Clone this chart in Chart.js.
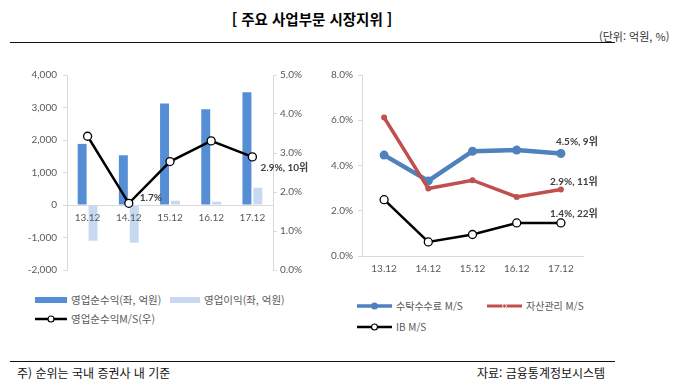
<!DOCTYPE html>
<html lang="ko">
<head>
<meta charset="utf-8">
<script src="https://cdn.jsdelivr.net/npm/chart.js@4.4.1/dist/chart.umd.min.js"></script>
<style>
  body { margin: 0; width: 678px; height: 390px; background: #fff; position: relative; overflow: hidden;
         font-family: "Noto Sans CJK KR", sans-serif; color: #000; }
  .abs { position: absolute; white-space: nowrap; }
  .title { left: 0; width: 624px; top: 8px; text-align: center; font-size: 14.5px; font-weight: bold; }
  .unit { left: 599px; top: 28px; font-size: 11px; color: #333; }
  .rule { left: 10px; width: 605px; height: 0; border-top: 1.5px solid #111; }
  .note { top: 364px; font-size: 12px; color: #111; }
  .legend { font-size: 10.5px; color: #595959; display: flex; align-items: center; }
  .legend svg { margin-right: 4px; }
  #leftWrap { left: 0; top: 60px; width: 320px; height: 225px; }
  #rightWrap { left: 320px; top: 60px; width: 358px; height: 225px; }
</style>
</head>
<body>
<div class="abs title">[ 주요 사업부문 시장지위 ]</div>
<div class="abs unit">(단위: 억원, %)</div>
<div class="abs rule" style="top:42px"></div>

<div class="abs" id="leftWrap"><canvas id="leftChart" width="320" height="225"></canvas></div>
<div class="abs" id="rightWrap"><canvas id="rightChart" width="358" height="225"></canvas></div>

<!-- legends -->
<div class="abs legend" style="left:35px; top:292px">
  <svg width="32" height="8"><rect x="0" y="1" width="32" height="6" fill="#558ed5"/></svg>영업순수익(좌, 억원)
</div>
<div class="abs legend" style="left:170px; top:292px">
  <svg width="30" height="8"><rect x="0" y="1" width="30" height="6" fill="#c6d9f1"/></svg>영업이익(좌, 억원)
</div>
<div class="abs legend" style="left:35px; top:311px">
  <svg width="32" height="10"><line x1="0" y1="5" x2="32" y2="5" stroke="#000" stroke-width="2.5"/><circle cx="16" cy="5" r="3" fill="#fff" stroke="#000" stroke-width="1.2"/></svg>영업순수익M/S(우)
</div>
<div class="abs legend" style="left:357px; top:298px; font-size:10px">
  <svg width="35" height="10"><line x1="0" y1="5" x2="35" y2="5" stroke="#4f81bd" stroke-width="3.5"/><circle cx="17.5" cy="5" r="3.5" fill="#4f81bd"/></svg>수탁수수료 M/S
</div>
<div class="abs legend" style="left:487px; top:298px; font-size:10px">
  <svg width="35" height="10"><line x1="0" y1="5" x2="35" y2="5" stroke="#c0504d" stroke-width="3"/><circle cx="17.5" cy="5" r="2" fill="#c0504d" stroke="#fff" stroke-width="0.8"/></svg>자산관리 M/S
</div>
<div class="abs legend" style="left:357px; top:319px; font-size:10px">
  <svg width="35" height="10"><line x1="0" y1="5" x2="35" y2="5" stroke="#000" stroke-width="2.5"/><circle cx="17.5" cy="5" r="3" fill="#fff" stroke="#000" stroke-width="1.2"/></svg>IB M/S
</div>

<div class="abs rule" style="top:361px"></div>
<div class="abs note" style="left:17px">주) 순위는 국내 증권사 내 기준</div>
<div class="abs note" style="left:477px">자료: 금융통계정보시스템</div>

<script>
// Categories and values
const years = ['13.12', '14.12', '15.12', '16.12', '17.12'];

// left chart (억원 / %)
const netRevenue = [1880, 1530, 3120, 2950, 3470];
const operatingProfit = [-1100, -1160, 130, 100, 530];
const netRevenueShare = [3.43, 1.71, 2.78, 3.31, 2.90];
const lowNote = ['', '1.7%', '', '', ''];
const lastNote = ['', '', '', '', '2.9%, 10위'];

// right chart (%)
const brokerageShare = [4.46, 3.32, 4.63, 4.68, 4.53];
const assetMgmtShare = [6.12, 2.98, 3.35, 2.61, 2.94];
const ibShare = [2.49, 0.62, 0.95, 1.46, 1.46];
const brokerageNotes = ['', '', '', '', '4.5%, 9위'];
const assetMgmtNotes = ['', '', '', '', '2.9%, 11위'];
const ibNotes = ['', '', '', '', '1.4%, 22위'];

// tick settings
const leftTicks = { min: -2000, max: 4000, step: 1000 };
const leftPctTicks = { min: 0, max: 5, step: 1 };
const rightTicks = { min: 0, max: 8, step: 2 };

const tickFont = { family: 'Lato, "Noto Sans CJK KR", sans-serif', size: 10 };
const tickColor = '#595959';
const axisColor = '#d9d9d9';

// Draws value labels next to chosen points
const pointNotes = {
  id: 'pointNotes',
  afterDatasetsDraw(chart, args, opts) {
    const ctx = chart.ctx;
    ctx.save();
    ctx.font = 'bold 10px Lato, "Noto Sans CJK KR", sans-serif';
    ctx.fillStyle = '#404040';
    ctx.textAlign = 'center';
    ctx.textBaseline = 'middle';
    (opts.items || []).forEach(item => {
      const meta = chart.getDatasetMeta(item.dataset);
      item.texts.forEach((t, i) => {
        if (!t) return;
        const pt = meta.data[i];
        ctx.fillText(t, pt.x + item.dx, pt.y + item.dy);
      });
    });
    ctx.restore();
  }
};

function pctLabel(v) { return v.toFixed(1) + '%'; }

// Left chart: bars + market share line
new Chart(document.getElementById('leftChart'), {
  type: 'bar',
  data: {
    labels: years,
    datasets: [
      {
        type: 'line', label: '영업순수익M/S(우)', data: netRevenueShare, yAxisID: 'y1', order: 0,
        borderColor: '#000', borderWidth: 2.5, pointRadius: 4, pointBackgroundColor: '#fff',
        pointBorderColor: '#000', pointBorderWidth: 1.3, tension: 0
      },
      { label: '영업순수익(좌, 억원)', data: netRevenue, backgroundColor: '#558ed5', yAxisID: 'y', order: 1 },
      { label: '영업이익(좌, 억원)', data: operatingProfit, backgroundColor: '#c6d9f1', yAxisID: 'y', order: 1 }
    ]
  },
  options: {
    responsive: false,
    animation: false,
    categoryPercentage: 0.53,
    barPercentage: 0.82,
    layout: { padding: { left: 0, right: 0, top: 15, bottom: 15 } },
    plugins: {
      legend: { display: false },
      tooltip: { enabled: false },
      pointNotes: { items: [
        { dataset: 0, texts: lowNote, dx: 22, dy: -6 },
        { dataset: 0, texts: lastNote, dx: 32, dy: 11 }
      ] }
    },
    scales: {
      x: {
        position: { y: 0 },
        grid: { display: false, drawTicks: false },
        border: { display: true, color: axisColor },
        ticks: { color: tickColor, font: tickFont, padding: 7, z: 1 }
      },
      y: {
        position: 'left',
        min: leftTicks.min, max: leftTicks.max,
        afterFit: s => { s.width = 67; },
        grid: { drawOnChartArea: false, tickLength: 4, color: axisColor },
        border: { color: axisColor },
        ticks: { stepSize: leftTicks.step, color: tickColor, font: tickFont, padding: 6,
                 callback: v => v.toLocaleString('en-US') }
      },
      y1: {
        position: 'right',
        min: leftPctTicks.min, max: leftPctTicks.max,
        afterFit: s => { s.width = 47; },
        grid: { drawOnChartArea: false, tickLength: 4, color: axisColor },
        border: { color: axisColor },
        ticks: { stepSize: leftPctTicks.step, color: tickColor, font: tickFont, padding: 3, callback: pctLabel }
      }
    }
  },
  plugins: [pointNotes]
});

// Right chart: three market share lines
new Chart(document.getElementById('rightChart'), {
  type: 'line',
  data: {
    labels: years,
    datasets: [
      { label: '수탁수수료 M/S', data: brokerageShare, borderColor: '#4f81bd', backgroundColor: '#4f81bd',
        borderWidth: 4.5, pointRadius: 4.5, pointBorderWidth: 0, order: 2 },
      { label: '자산관리 M/S', data: assetMgmtShare, borderColor: '#c0504d', backgroundColor: '#c0504d',
        borderWidth: 3.5, pointRadius: 3, pointBorderWidth: 0, order: 1 },
      { label: 'IB M/S', data: ibShare, borderColor: '#000', borderWidth: 2.5, pointRadius: 4,
        pointBackgroundColor: '#fff', pointBorderColor: '#000', pointBorderWidth: 1.3, order: 0 }
    ]
  },
  options: {
    responsive: false,
    animation: false,
    layout: { padding: { left: 0, right: 95, top: 15, bottom: 9 } },
    plugins: {
      legend: { display: false },
      tooltip: { enabled: false },
      pointNotes: { items: [
        { dataset: 0, texts: brokerageNotes, dx: 16, dy: -12 },
        { dataset: 1, texts: assetMgmtNotes, dx: 13, dy: -8 },
        { dataset: 2, texts: ibNotes, dx: 13, dy: -9 }
      ] }
    },
    scales: {
      x: {
        offset: true,
        afterFit: s => { s.height = 20; },
        grid: { display: false, drawTicks: false },
        border: { display: true, color: axisColor },
        ticks: { color: tickColor, font: tickFont, padding: 7 }
      },
      y: {
        min: rightTicks.min, max: rightTicks.max,
        afterFit: s => { s.width = 42; },
        grid: { drawOnChartArea: false, tickLength: 4, color: axisColor },
        border: { color: axisColor },
        ticks: { stepSize: rightTicks.step, color: tickColor, font: tickFont, padding: 5, callback: pctLabel }
      }
    }
  },
  plugins: [pointNotes]
});
</script>
</body>
</html>
